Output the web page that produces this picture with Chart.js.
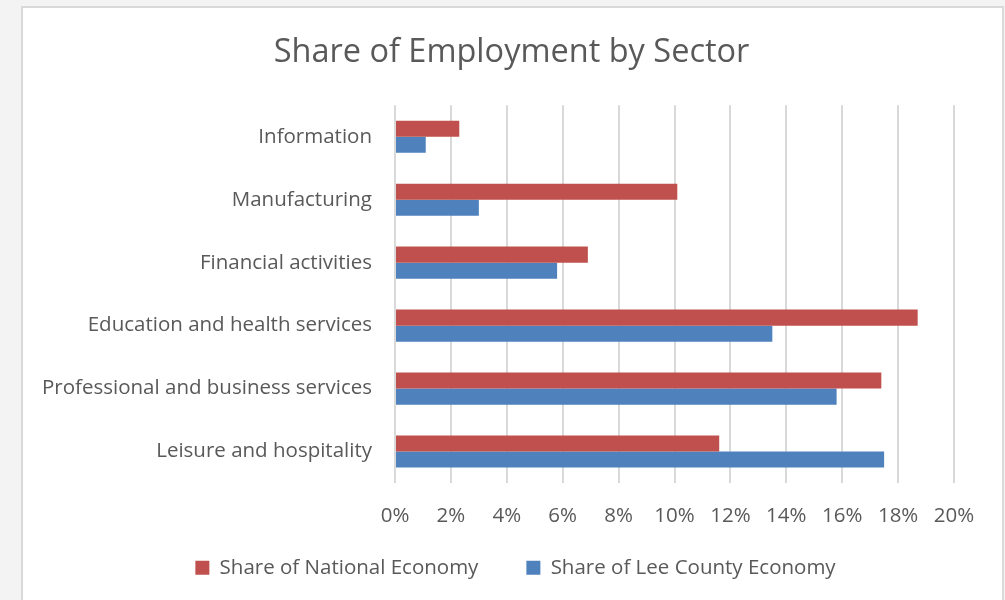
<!DOCTYPE html>
<html>
<head>
<meta charset="utf-8">
<script src="https://cdn.jsdelivr.net/npm/chart.js@4/dist/chart.umd.min.js"></script>
<style>
  html, body { margin: 0; padding: 0; background: #f3f3f3; overflow: hidden; }
  #panel {
    position: absolute; left: 21px; top: 6px; width: 979px; height: 600px;
    background: #fff; border: 2px solid #d9d9d9; border-bottom: none;
  }
  #wrap { position: absolute; left: 0; top: 0; width: 979px; height: 600px; }
</style>
</head>
<body>
<div id="panel"><div id="wrap"><canvas id="chart"></canvas></div></div>
<script>
// sectors, top to bottom
const sectors = ['Information', 'Manufacturing', 'Financial activities',
  'Education and health services', 'Professional and business services', 'Leisure and hospitality'];
// share of employment, percent
const nationalShare = [2.3, 10.1, 6.9, 18.7, 17.4, 11.6];
const leeCountyShare = [1.1, 3.0, 5.8, 13.5, 15.8, 17.5];
const xTicks = [0, 2, 4, 6, 8, 10, 12, 14, 16, 18, 20];

const grey = '#595959';
const fontFamily = '"Open Sans", "Noto Sans", sans-serif';
const fontSize = 20.5;

// title and legend in the original are centred on the whole panel (not on
// the padded chart box), and the legend sits closer to the axis labels
const boxPlacement = {
  id: 'boxPlacement',
  afterLayout(chart) {
    const shift = (box, dx, dy) => {
      if (!box) return;
      box.left += dx; box.right += dx;
      box.top += dy; box.bottom += dy;
    };
    shift(chart.titleBlock, 23, 0);
    shift(chart.legend, 27, -20);
  }
};

new Chart(document.getElementById('chart').getContext('2d'), {
  type: 'bar',
  data: {
    labels: sectors,
    datasets: [{
      label: 'Share of National Economy',
      data: nationalShare,
      backgroundColor: '#C0504D'
    }, {
      label: 'Share of Lee County Economy',
      data: leeCountyShare,
      backgroundColor: '#4F81BD'
    }]
  },
  plugins: [boxPlacement],
  options: {
    indexAxis: 'y',
    responsive: true,
    maintainAspectRatio: false,
    animation: false,
    categoryPercentage: 0.51,
    barPercentage: 1.0,
    layout: { padding: { left: 0, right: 48, top: 0, bottom: 0 } },
    scales: {
      x: {
        min: 0, max: 20,
        afterBuildTicks: function(scale) {
          scale.ticks = xTicks.map(v => ({ value: v }));
        },
        afterFit: function(scale) { scale.height = 46.5; },
        grid: { color: '#d9d9d9', lineWidth: 2, drawTicks: false },
        border: { display: false },
        ticks: {
          color: grey, padding: 21,
          font: { family: fontFamily, size: fontSize },
          callback: v => v + '%'
        }
      },
      y: {
        afterFit: function(scale) { scale.width = 372; },
        grid: { display: false, drawTicks: false },
        border: { display: false },
        ticks: { color: grey, padding: 23, font: { family: fontFamily, size: fontSize } }
      }
    },
    plugins: {
      title: {
        display: true,
        text: 'Share of Employment by Sector',
        color: grey,
        font: { family: fontFamily, size: 32.5, weight: 'normal' },
        padding: { top: 25, bottom: 33.3 }
      },
      legend: {
        position: 'bottom',
        labels: {
          color: grey, boxWidth: 14, boxHeight: 14, padding: 48,
          font: { family: fontFamily, size: fontSize }
        }
      },
      tooltip: { enabled: false }
    }
  }
});
</script>
</body>
</html>
